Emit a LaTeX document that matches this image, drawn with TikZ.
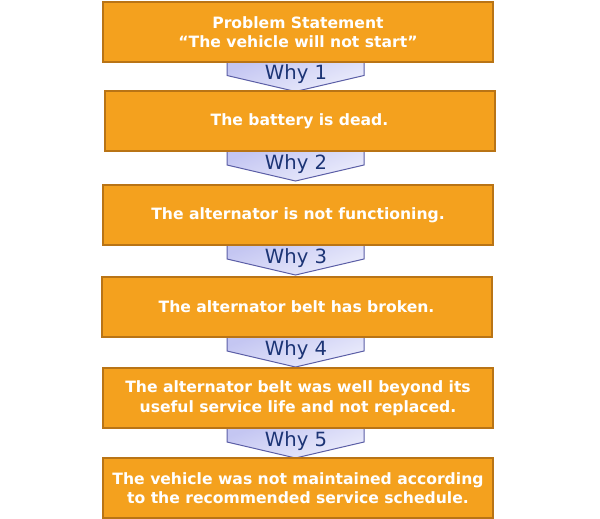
\documentclass[tikz,border=0pt]{standalone}
\usepackage{fontspec}
\setmainfont{DejaVu Sans}
\usetikzlibrary{shadings}
\definecolor{boxfill}{HTML}{F4A11E}
\definecolor{boxline}{HTML}{B97415}
\definecolor{whyfillA}{HTML}{C4C6F2}
\definecolor{whyfillB}{HTML}{EDEEFC}
\definecolor{whyline}{HTML}{5B5EA6}
\definecolor{whytext}{HTML}{1C3475}
\tikzset{
  stepbox/.style={draw=boxline, line width=2pt, fill=boxfill, minimum width=390pt, minimum height=60pt, inner sep=0pt, text=white, font=\bfseries\fontsize{15.6}{19.5}\selectfont, align=center},
  whyarrow/.style={draw=whyline, line width=1pt, top color=whyfillA, bottom color=whyfillB, shading angle=20},
  whylabel/.style={text=whytext, font=\fontsize{19.6}{22}\selectfont, inner sep=0pt}
}
\begin{document}
\begin{tikzpicture}[x=1pt,y=-1pt]
\useasboundingbox (0,0) rectangle (600,519);
\fill[white] (0,0) rectangle (600,519);
\foreach \t/\n in {61.5/1,151/2,245/3,337/4,428/5}{
  \draw[whyarrow] (227,\t) -- (364,\t) -- (364,\t+14) -- (295.5,\t+30) -- (227,\t+14) -- cycle;
}
\node[stepbox] (b0) at (298,32) {Problem Statement\\“The vehicle will not start”};
\node[stepbox] (b1) at (299.5,121) {The battery is dead.};
\node[stepbox] (b2) at (298,215) {The alternator is not functioning.};
\node[stepbox] (b3) at (296.5,307) {The alternator belt has broken.};
\node[stepbox] (b4) at (298,398) {The alternator belt was well beyond its\\useful service life and not replaced.};
\node[stepbox] (b5) at (298,488) {The vehicle was not maintained according\\to the recommended service schedule.};
\node[whylabel] (w1) at (296,74.5) {Why 1};
\node[whylabel] (w2) at (296,164) {Why 2};
\node[whylabel] (w3) at (296,258) {Why 3};
\node[whylabel] (w4) at (296,350) {Why 4};
\node[whylabel] (w5) at (296,441) {Why 5};
\end{tikzpicture}
\end{document}
